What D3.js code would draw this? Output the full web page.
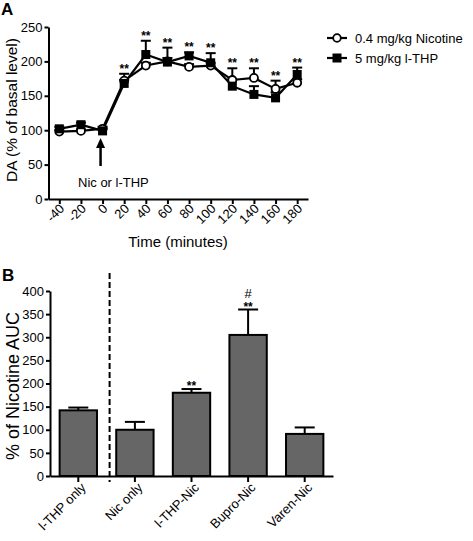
<!DOCTYPE html>
<html><head><meta charset="utf-8">
<script src="https://cdn.jsdelivr.net/npm/d3@7"></script>
<style>
body{margin:0;background:#fff;}
svg{display:block;font-family:"Liberation Sans",Arial,sans-serif;}
</style></head>
<body><svg id="c" width="473" height="541"></svg>
<script>
// ---- Panel A data ----
const times = [-40,-20,0,20,40,60,80,100,120,140,160,180];
const nicMean = [98,99,102,172,194,200,192,194,173,176,160,169];
const nicErr  = [2,2,3,10,4,5,4,4,17,14,12,5];
const thpMean = [102,108,99,168,210,199,208,198,164,152,147,181];
const thpErr  = [3,3,3,5,20,21,5,14,10,12,8,10];
const starTimes = [20,40,60,80,100,120,140,160,180];
const timeTicks = [-40,-20,0,20,40,60,80,100,120,140,160,180];
const daTicks = [0,50,100,150,200,250];
const seriesNames = ["0.4 mg/kg Nicotine","5 mg/kg l-THP"];

// ---- Panel B data ----
const groups = ["l-THP only","Nic only","l-THP-Nic","Bupro-Nic","Varen-Nic"];
const aucMean = [142,100,180,305,91];
const aucErr  = [6,17,8,55,14];
const aucStars = ["","","**","**",""];
const aucHash  = ["","","","#",""];
const aucTicks = [0,50,100,150,200,250,300,350,400];

const svg = d3.select("#c");

// ================= Panel A =================
const xA = d3.scaleLinear().domain([-50,190]).range([48.5,308]);
const yA = d3.scaleLinear().domain([0,250]).range([199,27]);
const gA = svg.append("g");

const axYA = gA.append("g").attr("transform","translate(48.5,0)")
  .call(d3.axisLeft(yA).tickValues(daTicks).tickSize(4).tickPadding(2).tickSizeOuter(0));
const axXA = gA.append("g").attr("transform","translate(0,199)")
  .call(d3.axisBottom(xA).tickValues(timeTicks).tickSize(5).tickSizeOuter(0).tickFormat(d=>String(d)));
[axYA,axXA].forEach(a=>{
  a.select(".domain").attr("stroke","#000").attr("stroke-width",2);
  a.selectAll(".tick line").attr("stroke","#000").attr("stroke-width",2);
  a.selectAll("text").attr("font-size",13).attr("fill","#000").attr("font-family","Liberation Sans, Arial, sans-serif");
});
axXA.selectAll(".tick text").attr("text-anchor","end").attr("dy",null)
  .attr("transform","translate(-1,4) rotate(-45)").attr("y",9).attr("x",0);

gA.append("text").attr("x",178).attr("y",247).attr("text-anchor","middle").attr("font-size",15).text("Time (minutes)");
gA.append("text").attr("transform","translate(17,110) rotate(-90)").attr("text-anchor","middle").attr("font-size",15.5).text("DA (% of basal level)");
gA.append("text").attr("x",1).attr("y",15).attr("font-size",17).attr("font-weight","bold").text("A");

const nic = times.map((t,i)=>({t,m:nicMean[i],e:nicErr[i]}));
const thp = times.map((t,i)=>({t,m:thpMean[i],e:thpErr[i]}));
const line = d3.line().x(d=>xA(d.t)).y(d=>yA(d.m));

function errBars(data){
  const g = gA.append("g").attr("stroke","#000").attr("stroke-width",2);
  data.forEach(d=>{
    const x=xA(d.t), y0=yA(d.m), y1=yA(d.m+d.e);
    g.append("line").attr("x1",x).attr("x2",x).attr("y1",y0).attr("y2",y1);
    g.append("line").attr("x1",x-5).attr("x2",x+5).attr("y1",y1).attr("y2",y1);
  });
}
errBars(nic); errBars(thp);
gA.append("path").datum(nic).attr("d",line).attr("fill","none").attr("stroke","#000").attr("stroke-width",2.2);
gA.append("path").datum(thp).attr("d",line).attr("fill","none").attr("stroke","#000").attr("stroke-width",2.2);
gA.append("g").selectAll("circle").data(nic).join("circle")
  .attr("cx",d=>xA(d.t)).attr("cy",d=>yA(d.m)).attr("r",4)
  .attr("fill","#fff").attr("stroke","#000").attr("stroke-width",1.8);
gA.append("g").selectAll("rect").data(thp).join("rect")
  .attr("x",d=>xA(d.t)-4.5).attr("y",d=>yA(d.m)-4.5).attr("width",9).attr("height",9).attr("fill","#000");

// stars
starTimes.forEach(t=>{
  const i = times.indexOf(t);
  const top = Math.max(nicMean[i]+nicErr[i], thpMean[i]+thpErr[i]);
  gA.append("text").attr("x",xA(t)).attr("y",yA(top)-1).attr("text-anchor","middle")
    .attr("font-size",12).attr("font-weight","bold").text("**");
});

// arrow + label
const ax = xA(0)-2;
gA.append("line").attr("x1",ax).attr("x2",ax).attr("y1",166).attr("y2",146).attr("stroke","#000").attr("stroke-width",2.5);
gA.append("path").attr("d",`M${ax-4.5},148 L${ax},138 L${ax+4.5},148 Z`).attr("fill","#000");
gA.append("text").attr("x",78).attr("y",187).attr("font-size",13).text("Nic or l-THP");

// legend
const lg = gA.append("g");
[0,1].forEach(k=>{
  const y = 38 + k*20;
  lg.append("line").attr("x1",327).attr("x2",347).attr("y1",y).attr("y2",y).attr("stroke","#000").attr("stroke-width",2.2);
  if(k===0) lg.append("circle").attr("cx",337).attr("cy",y).attr("r",3.8).attr("fill","#fff").attr("stroke","#000").attr("stroke-width",1.8);
  else lg.append("rect").attr("x",332.5).attr("y",y-4.5).attr("width",9).attr("height",9).attr("fill","#000");
  lg.append("text").attr("x",355).attr("y",y+5).attr("font-size",13).text(seriesNames[k]);
});

// ================= Panel B =================
const xB = d3.scaleBand().domain(groups).range([50,333]).paddingInner(0.34).paddingOuter(0.17);
const yB = d3.scaleLinear().domain([0,400]).range([476,291]);
const gB = svg.append("g");

gB.append("text").attr("x",2).attr("y",281).attr("font-size",17).attr("font-weight","bold").text("B");

// bars
gB.append("g").selectAll("rect").data(groups).join("rect")
  .attr("x",d=>xB(d)).attr("width",xB.bandwidth())
  .attr("y",(d,i)=>yB(aucMean[i])).attr("height",(d,i)=>yB(0)-yB(aucMean[i]))
  .attr("fill","#666").attr("stroke","#000").attr("stroke-width",2);
// error bars
const eg = gB.append("g").attr("stroke","#000").attr("stroke-width",2);
groups.forEach((g,i)=>{
  const cx = xB(g)+xB.bandwidth()/2, y0=yB(aucMean[i]), y1=yB(aucMean[i]+aucErr[i]);
  eg.append("line").attr("x1",cx).attr("x2",cx).attr("y1",y0).attr("y2",y1);
  eg.append("line").attr("x1",cx-10).attr("x2",cx+10).attr("y1",y1).attr("y2",y1);
  if(aucStars[i]) gB.append("text").attr("x",cx).attr("y",y1+1).attr("text-anchor","middle").attr("font-size",12).attr("font-weight","bold").text(aucStars[i]);
  if(aucHash[i]) gB.append("text").attr("x",cx).attr("y",y1-12).attr("text-anchor","middle").attr("font-size",13).text(aucHash[i]);
});

const axYB = gB.append("g").attr("transform","translate(50,0)")
  .call(d3.axisLeft(yB).tickValues(aucTicks).tickSize(4).tickPadding(2).tickSizeOuter(0));
const axXB = gB.append("g").attr("transform","translate(0,476)")
  .call(d3.axisBottom(xB).tickSize(6).tickSizeOuter(0));
[axYB,axXB].forEach(a=>{
  a.select(".domain").attr("stroke","#000").attr("stroke-width",2);
  a.selectAll(".tick line").attr("stroke","#000").attr("stroke-width",2);
  a.selectAll("text").attr("font-size",13).attr("fill","#000").attr("font-family","Liberation Sans, Arial, sans-serif");
});
axXB.selectAll(".tick text").attr("text-anchor","end").attr("dy",null)
  .attr("transform","translate(2,6) rotate(-45)").attr("y",9).attr("x",0);

// dashed separator
const sepX = (xB(groups[0])+xB.bandwidth()+xB(groups[1]))/2 + 3;
gB.append("line").attr("x1",sepX).attr("x2",sepX).attr("y1",273).attr("y2",482)
  .attr("stroke","#000").attr("stroke-width",2).attr("stroke-dasharray","6,3");

gB.append("text").attr("transform","translate(19,386) rotate(-90)").attr("text-anchor","middle").attr("font-size",18).text("% of Nicotine AUC");
</script></body></html>
